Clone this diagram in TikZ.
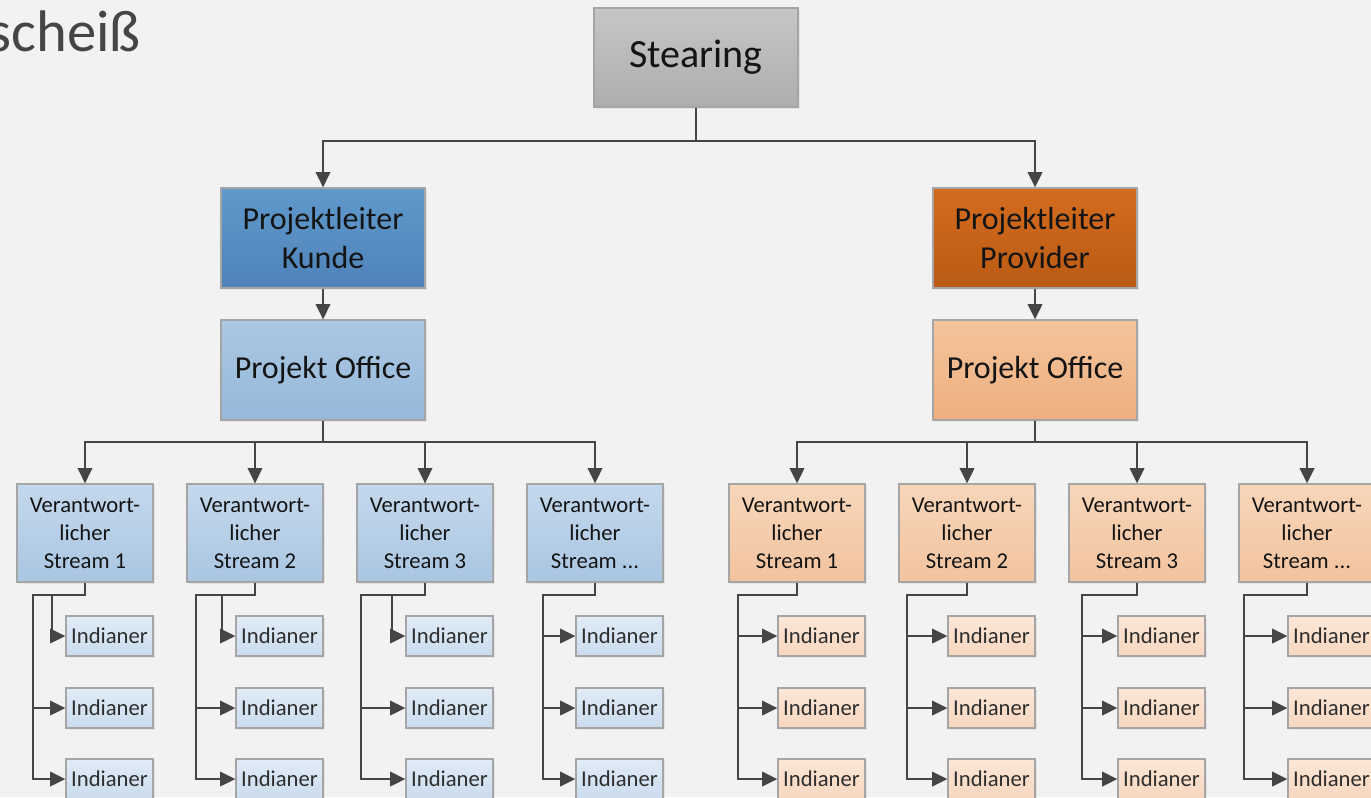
\documentclass[tikz,border=0pt]{standalone}
\usepackage{fontspec}
\setmainfont{Carlito}
\usepackage{xcolor}
\usepackage{tikz}
\usetikzlibrary{arrows.meta, positioning, shadows}
\definecolor{pagebg}{HTML}{F2F2F2}
\definecolor{boxline}{HTML}{A5A5A5}
\definecolor{linkcol}{HTML}{454545}
\definecolor{boxtext}{HTML}{141414}
\definecolor{indtext}{HTML}{2E2E2E}
\definecolor{steertop}{HTML}{C6C6C6}
\definecolor{steerbot}{HTML}{ADADAD}
\definecolor{kleittop}{HTML}{6199CB}
\definecolor{kleitbot}{HTML}{4F83BA}
\definecolor{kofftop}{HTML}{ABC8E4}
\definecolor{koffbot}{HTML}{96B8DA}
\definecolor{kstrtop}{HTML}{C4D8EC}
\definecolor{kstrbot}{HTML}{AAC6E2}
\definecolor{kindtop}{HTML}{E0EBF6}
\definecolor{kindbot}{HTML}{CBDCEE}
\definecolor{pleittop}{HTML}{D46C1E}
\definecolor{pleitbot}{HTML}{BA5A14}
\definecolor{pofftop}{HTML}{F4C49D}
\definecolor{poffbot}{HTML}{EEAF7F}
\definecolor{pstrtop}{HTML}{F8D6BA}
\definecolor{pstrbot}{HTML}{F2C39E}
\definecolor{pindtop}{HTML}{FCE7D7}
\definecolor{pindbot}{HTML}{F8D6BF}
\newcommand{\mehr}{...}

\begin{document}
\begin{tikzpicture}[x=0.75pt, y=-0.75pt,
    box/.style={rectangle, draw=boxline, line width=1pt, align=center, text=boxtext, inner sep=2pt,
        drop shadow={shadow xshift=1.5pt, shadow yshift=-1.5pt, opacity=0.12}},
    big/.style={box, minimum width=153pt, minimum height=75pt, font=\fontsize{24}{29}\selectfont},
    stream/.style={box, minimum width=102pt, minimum height=73.5pt, font=\fontsize{17}{21}\selectfont},
    indianer/.style={box, minimum width=65.25pt, minimum height=30pt, font=\fontsize{17}{21}\selectfont, text=indtext},
    arrow/.style={-{Triangle[length=11.5pt, width=11pt]}, line width=1.5pt, draw=linkcol},
    link/.style={line width=1.5pt, draw=linkcol}
]

\path[use as bounding box, fill=pagebg] (0,0) rectangle (1371,797);
\clip (0,0) rectangle (1371,797);

\node[anchor=base east, inner sep=0pt, text=linkcol, font=\fontsize{44}{52}\selectfont] (title) at (141,51) {scheiß};

\node[big, minimum height=74.25pt, top color=steertop, bottom color=steerbot, font=\fontsize{30}{36}\selectfont] (steer) at (696,57.5) {Stearing};

\node[big, top color=kleittop, bottom color=kleitbot] (kLeit) at (323,238) {Projektleiter\\Kunde};
\node[big, top color=kofftop, bottom color=koffbot] (kOff) at (323,370) {Projekt Office};
\node[big, top color=pleittop, bottom color=pleitbot] (pLeit) at (1035,238) {Projektleiter\\Provider};
\node[big, top color=pofftop, bottom color=poffbot] (pOff) at (1035,370) {Projekt Office};

\draw[arrow] (steer.south) -- ++(0,33) -| (kLeit.north);
\draw[arrow] (steer.south) -- ++(0,33) -| (pLeit.north);
\draw[arrow] (kLeit) -- (kOff);
\draw[arrow] (pLeit) -- (pOff);

% Kunde streams
\foreach \n/\cx/\vx/\wx/\lab in {1/85/33/52/1, 2/255/196/222/2, 3/425/361/392/3, 4/595/543/543/\mehr} {
    \node[stream, top color=kstrtop, bottom color=kstrbot] (kS\n) at (\cx,533) {Verantwort-\\licher\\Stream \lab};
    \foreach \r/\ry in {a/636, b/708, c/779}
        \node[indianer, top color=kindtop, bottom color=kindbot] (kS\n-\r) at (\cx+24.5,\ry) {Indianer};
    \coordinate (kS\n v) at (\vx,595);
    \coordinate (kS\n w) at (\wx,595);
    \draw[arrow] (kOff.south) -- ++(0,21) -| (kS\n.north);
    \draw[arrow] (kS\n.south) |- (kS\n v) |- (kS\n-c.west);
    \draw[arrow] (kS\n v |- kS\n-b.west) -- (kS\n-b.west);
    \draw[arrow] (kS\n w) |- (kS\n-a.west);
}

% Provider streams
\foreach \n/\cx/\vx/\lab in {1/797/738/1, 2/967/907/2, 3/1137/1082/3, 4/1307/1244/\mehr} {
    \node[stream, top color=pstrtop, bottom color=pstrbot] (pS\n) at (\cx,533) {Verantwort-\\licher\\Stream \lab};
    \foreach \r/\ry in {a/636, b/708, c/779}
        \node[indianer, top color=pindtop, bottom color=pindbot] (pS\n-\r) at (\cx+24.5,\ry) {Indianer};
    \coordinate (pS\n v) at (\vx,595);
    \draw[arrow] (pOff.south) -- ++(0,21) -| (pS\n.north);
    \draw[arrow] (pS\n.south) |- (pS\n v) |- (pS\n-c.west);
    \draw[arrow] (pS\n v |- pS\n-b.west) -- (pS\n-b.west);
    \draw[arrow] (pS\n v |- pS\n-a.west) -- (pS\n-a.west);
}

\end{tikzpicture}
\end{document}
